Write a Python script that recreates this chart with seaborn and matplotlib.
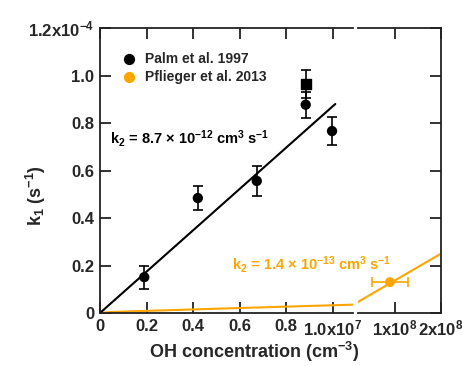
import matplotlib
matplotlib.use("Agg")
import matplotlib.pyplot as plt
import seaborn as sns
import pandas as pd

# Palm et al. 1997 data (OH in cm-3, k1 in s-1)
palm_oh = [0.19e7, 0.42e7, 0.673e7, 0.883e7, 0.996e7]
palm_k1 = [1.51e-5, 4.84e-5, 5.56e-5, 8.77e-5, 7.66e-5]
palm_err = [0.49e-5, 0.52e-5, 0.65e-5, 0.55e-5, 0.6e-5]
# one point drawn as a square
palm_sq_oh = [0.883e7]
palm_sq_k1 = [9.65e-5]
palm_sq_err = [0.6e-5]

# Pflieger et al. 2013
pfl_oh = [0.89e8]
pfl_k1 = [1.3e-5]
pfl_xerr = [0.4e8]

# fit lines
fit_palm_oh = [0, 1.01e7]
fit_palm_k1 = [0, 8.8e-5]
fit_pfl_oh = [0, 0.05e7, 0.2e7, 0.6e7, 1.1e7, 1.9e7, 2e8]
fit_pfl_k1 = [0, 0.45e-6, 0.9e-6, 2.1e-6, 3.55e-6, 4.6e-6, 2.5e-5]

yticks = [0, 0.2e-4, 0.4e-4, 0.6e-4, 0.8e-4, 1.0e-4, 1.2e-4]
ytick_labels = ["0", "0.2", "0.4", "0.6", "0.8", "1.0", "1.2x10$^{-4}$"]
xticks_left = [0, 0.2e7, 0.4e7, 0.6e7, 0.8e7, 1.0e7]
xtick_labels_left = ["0", "0.2", "0.4", "0.6", "0.8", "1.0x10$^{7}$"]
xticks_right = [1e8, 2e8]
xtick_labels_right = ["1x10$^{8}$", "2x10$^{8}$"]

orange = "#FFA500"

sns.set_style("ticks")
plt.rcParams['font.family'] = ['Liberation Sans', 'DejaVu Sans']
plt.rcParams['font.weight'] = 'bold'
plt.rcParams['mathtext.fontset'] = 'custom'
plt.rcParams['mathtext.rm'] = 'Liberation Sans:bold'
plt.rcParams['mathtext.it'] = 'Liberation Sans:bold'
plt.rcParams['mathtext.bf'] = 'Liberation Sans:bold'
plt.rcParams['mathtext.default'] = 'rm'

fig = plt.figure(figsize=(4.64, 3.66), dpi=100)
ax1 = fig.add_axes([100/464, 53/366, 253/464, 285/366])
ax2 = fig.add_axes([358/464, 53/366, 83/464, 285/366])
ax2.set_facecolor("none")

palm_df = pd.DataFrame({"oh": palm_oh, "k1": palm_k1})
fit_palm = pd.DataFrame({"oh": fit_palm_oh, "k1": fit_palm_k1})
fit_pfl = pd.DataFrame({"oh": fit_pfl_oh, "k1": fit_pfl_k1})
pfl_df = pd.DataFrame({"oh": pfl_oh, "k1": pfl_k1})

for ax in (ax1, ax2):
    sns.lineplot(data=fit_pfl, x="oh", y="k1", ax=ax, color=orange, lw=1.5,
                 estimator=None, sort=False)

sns.lineplot(data=fit_palm, x="oh", y="k1", ax=ax1, color="black", lw=1.5,
             estimator=None, sort=False)
ax1.errorbar(palm_oh, palm_k1, yerr=palm_err, fmt="none", ecolor="black",
             elinewidth=1.2, capsize=3.3, capthick=1.2)
ax1.errorbar(palm_sq_oh, palm_sq_k1, yerr=palm_sq_err, fmt="none", ecolor="black",
             elinewidth=1.2, capsize=3.3, capthick=1.2)
sns.scatterplot(data=palm_df, x="oh", y="k1", ax=ax1, color="black", s=55,
                edgecolor="none", marker="o", zorder=5)
ax1.scatter(palm_sq_oh, palm_sq_k1, color="black", marker="s", s=50, zorder=5)

ax2.errorbar(pfl_oh, pfl_k1, xerr=pfl_xerr, fmt="none", ecolor=orange,
             elinewidth=1.2, capsize=3.3, capthick=1.2)
sns.scatterplot(data=pfl_df, x="oh", y="k1", ax=ax2, color=orange, s=50,
                edgecolor="none", zorder=5)

# legend
h1 = ax1.scatter([], [], color="black", s=50)
h2 = ax1.scatter([], [], color=orange, s=50)
ax1.legend([h1, h2], ["Palm et al. 1997", "Pflieger et al. 2013"], loc="upper left",
           bbox_to_anchor=(0.02, 0.95), frameon=False, fontsize=10,
           handletextpad=0.15, borderaxespad=0.3, labelspacing=0.3)

ax1.text(0.04, 0.595, "k$_2$ = 8.7 × 10$^{-12}$ cm$^3$ s$^{-1}$",
         transform=ax1.transAxes, fontsize=10.5, color="black")
fig.text(232/464, (366-270)/366, "k$_2$ = 1.4 × 10$^{-13}$ cm$^3$ s$^{-1}$",
         fontsize=10.5, color=orange, zorder=10)

ax1.set_xlim(0, 1.086e7)
ax2.set_xlim(0.196e8, 2e8)
for ax in (ax1, ax2):
    ax.set_ylim(0, 1.2e-4)
    ax.set_xlabel("")
    ax.set_ylabel("")
    for s in ax.spines.values():
        s.set_linewidth(1.3)
        s.set_color("#222222")
    ax.tick_params(direction="in", length=8, width=1.3, color="#222222",
                   labelsize=12, pad=4)
    ax.set_yticks(yticks)

ax1.spines["right"].set_visible(False)
ax2.spines["left"].set_visible(False)
ax1.set_yticklabels(ytick_labels)
ax1.tick_params(top=True, right=False)
ax1.set_xticks(xticks_left)
ax1.set_xticklabels(xtick_labels_left)

ax2.tick_params(left=False, labelleft=False, right=True, top=True)
ax2.set_xticks(xticks_right)
ax2.set_xticklabels(xtick_labels_right)

for lab in ax1.get_xticklabels() + ax1.get_yticklabels() + ax2.get_xticklabels():
    lab.set_fontweight("bold")

fig.text(254/464, 14/366, "OH concentration (cm$^{-3}$)", ha="center", va="center",
         fontsize=13)
fig.text(36/464, 170/366, "k$_1$ (s$^{-1}$)", ha="center", va="center",
         rotation=90, fontsize=13)

fig.savefig("out.png", dpi=100)
